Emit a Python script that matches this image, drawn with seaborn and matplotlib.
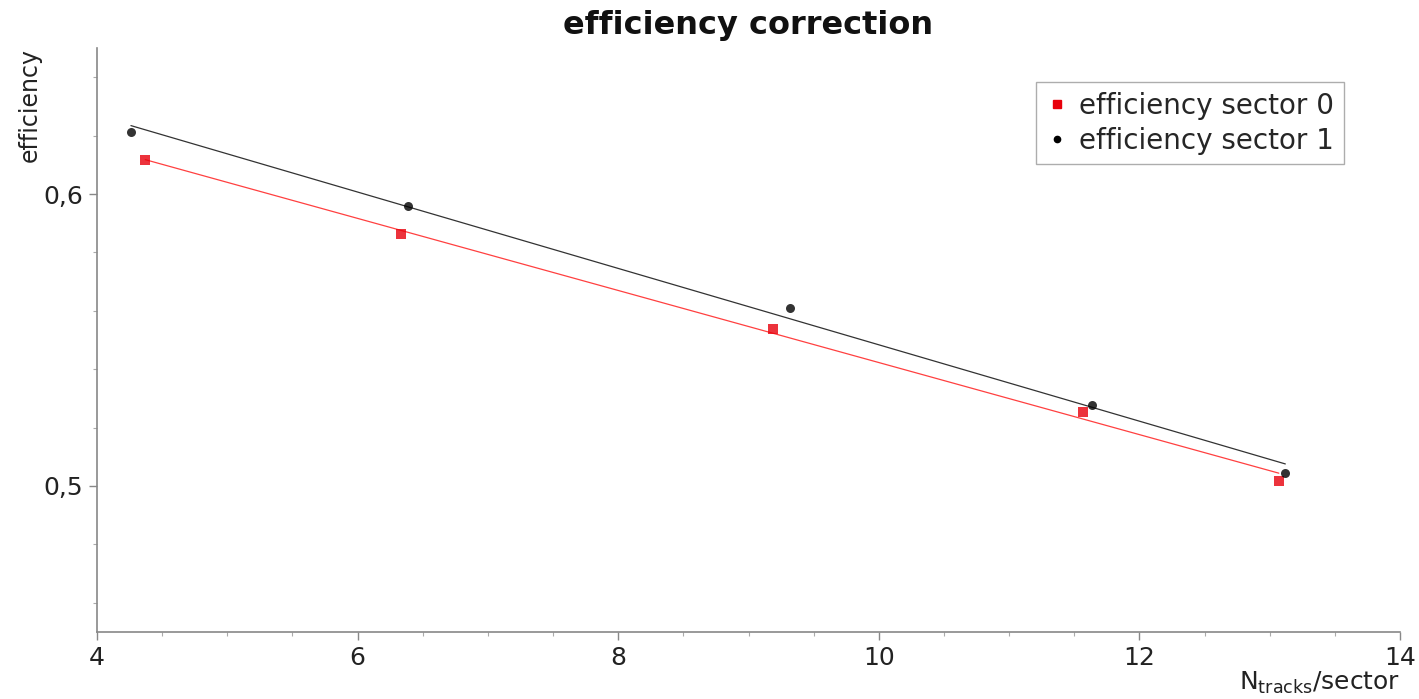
import numpy as np
import pandas as pd
import seaborn as sns
import matplotlib
matplotlib.use("Agg")
import matplotlib.pyplot as plt
from matplotlib.ticker import MultipleLocator, FuncFormatter
from matplotlib.lines import Line2D

# Data
x_sector0 = [4.37, 6.33, 9.19, 11.57, 13.07]
y_sector0 = [0.6117, 0.5862, 0.5538, 0.5255, 0.5017]
x_sector1 = [4.26, 6.39, 9.32, 11.64, 13.12]
y_sector1 = [0.6214, 0.5959, 0.5610, 0.5279, 0.5045]
labels = ["efficiency sector 0", "efficiency sector 1"]

sns.set_theme(style="white")
plt.rcParams['font.family'] = ['DejaVu Sans']

fig = plt.figure(figsize=(14.19, 6.99), dpi=100)
ax = fig.add_axes([0.0684, 0.0959, 0.9182, 0.8354])

df0 = pd.DataFrame({"x": x_sector0, "y": y_sector0})
df1 = pd.DataFrame({"x": x_sector1, "y": y_sector1})

sns.regplot(data=df0, x="x", y="y", ax=ax, ci=None, marker="s",
            scatter_kws=dict(color="#e8000b", s=50, linewidths=0, zorder=3),
            line_kws=dict(color="#ff4040", lw=0.9, zorder=2))
sns.regplot(data=df1, x="x", y="y", ax=ax, ci=None, marker="o",
            scatter_kws=dict(color="black", s=42, linewidths=0, zorder=3),
            line_kws=dict(color="#333333", lw=0.9, zorder=2))

ax.set_xlim(4, 14)
ax.set_ylim(0.45, 0.65)
ax.xaxis.set_major_locator(MultipleLocator(2))
ax.xaxis.set_minor_locator(MultipleLocator(0.5))
ax.yaxis.set_major_locator(MultipleLocator(0.1))
ax.yaxis.set_minor_locator(MultipleLocator(0.02))
ax.yaxis.set_major_formatter(FuncFormatter(lambda v, p: f"{v:.1f}".replace(".", ",")))
ax.xaxis.set_major_formatter(FuncFormatter(lambda v, p: f"{v:g}"))

for s in ["top", "right"]:
    ax.spines[s].set_visible(False)
for s in ["left", "bottom"]:
    ax.spines[s].set_color("#888888")
    ax.spines[s].set_linewidth(1.2)

ax.tick_params(axis="both", which="major", direction="out", length=6, width=1,
               color="#888888", labelsize=18, labelcolor="#222222", bottom=True, left=True, pad=4)
ax.tick_params(axis="both", which="minor", direction="out", length=3, width=0.8,
               color="#aaaaaa", bottom=True, left=True)

ax.set_xlabel("N$_{\\mathregular{tracks}}$/sector", loc="right", fontsize=18, color="#222222", labelpad=0)
ax.set_ylabel("efficiency", loc="top", fontsize=17, color="#222222", labelpad=1)
ax.set_title("efficiency correction", fontsize=23, fontweight="bold", color="#111111", pad=10)

handles = [Line2D([], [], marker="s", color="#e8000b", ls="none", markersize=6),
           Line2D([], [], marker="o", color="black", ls="none", markersize=4.5)]
leg = ax.legend(handles, labels, loc="upper right", bbox_to_anchor=(0.957, 0.942),
                fontsize=20, frameon=True, fancybox=False, handlelength=0.8,
                handletextpad=0.4, borderpad=0.35, labelspacing=0.25, borderaxespad=0)
leg.get_frame().set_edgecolor("#999999")
leg.get_frame().set_linewidth(1.0)

fig.savefig("out.png", dpi=100)
